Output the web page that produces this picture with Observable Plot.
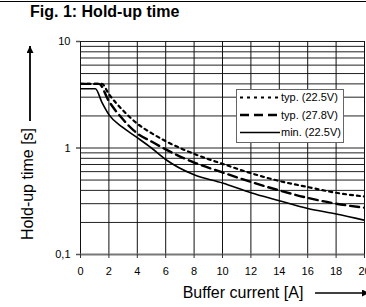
<!DOCTYPE html>
<html>
<head>
<meta charset="utf-8">
<script src="https://cdn.jsdelivr.net/npm/d3@7"></script>
<script src="https://cdn.jsdelivr.net/npm/@observablehq/plot@0.6"></script>
<style>
  html, body { margin: 0; padding: 0; background: #fff; }
  #wrap { position: relative; width: 366px; height: 307px; overflow: hidden; font-family: "Liberation Sans", Arial, Helvetica, sans-serif; }
  #title { height: 32px; box-sizing: border-box; border-top: 1.5px solid #000; margin-top: 1px; padding-left: 30px; font-weight: bold; font-size: 16px; line-height: 16px; padding-top: 2px; color: #000; white-space: nowrap; }
  svg { display: block; }
</style>
</head>
<body>
<div id="wrap">
  <div id="title">Fig. 1: Hold-up time</div>
  <div id="chart"></div>
</div>
<script>
// ---- data ----
const seriesNames = ["typ. (22.5V)", "typ. (27.8V)", "min. (22.5V)"];

const currentTyp225 = [0, 1.5, 2, 3, 4, 5, 6, 8, 10, 12, 14, 16, 18, 20];
const holdTyp225    = [4.0, 4.0, 3.2, 2.25, 1.69, 1.38, 1.16, 0.88, 0.71, 0.58, 0.49, 0.43, 0.38, 0.35];

const currentTyp278 = [0, 1.3, 2, 3, 4, 5, 6, 8, 10, 12, 14, 16, 18, 20];
const holdTyp278    = [4.0, 4.0, 2.75, 1.85, 1.37, 1.15, 0.97, 0.73, 0.59, 0.48, 0.40, 0.34, 0.30, 0.275];

const currentMin225 = [0, 1.05, 1.5, 2, 3, 4, 5, 6, 8, 10, 12, 14, 16, 18, 20];
const holdMin225    = [3.6, 3.6, 2.7, 2.06, 1.55, 1.25, 1.0, 0.78, 0.56, 0.47, 0.38, 0.32, 0.27, 0.24, 0.21];

const xTicks = [0, 2, 4, 6, 8, 10, 12, 14, 16, 18, 20];
const yTicks = [0.1, 1, 10];
const yTickLabels = ["0,1", "1", "10"];
const yGrid = [0.2, 0.3, 0.4, 0.5, 0.6, 0.7, 0.8, 0.9, 1, 2, 3, 4, 5, 6, 7, 8, 9, 10];

const xLabel = "Buffer current [A]";
const yLabel = "Hold-up time [s]";

// ---- build tables ----
const zip = (xs, ys, s) => xs.map((x, i) => ({current: x, hold: ys[i], series: s}));
const dTyp225 = zip(currentTyp225, holdTyp225, seriesNames[0]);
const dTyp278 = zip(currentTyp278, holdTyp278, seriesNames[1]);
const dMin225 = zip(currentMin225, holdMin225, seriesNames[2]);

const styles = [
  {dash: "3,4", width: 2.2},
  {dash: "9,5", width: 2.4},
  {dash: null, width: 1.6}
];

const yFmt = d => yTickLabels[yTicks.indexOf(d)];

const chart = Plot.plot({
  width: 366,
  height: 275,
  marginLeft: 80,
  marginRight: 2,
  marginTop: 8,
  marginBottom: 54,
  style: {fontFamily: "'Liberation Sans', Arial, Helvetica, sans-serif", fontSize: "11px", color: "#000", background: "#fff"},
  x: {domain: [0, 20], ticks: xTicks, label: null},
  y: {type: "log", domain: [0.1, 10], ticks: yTicks, label: null, tickFormat: yFmt},
  marks: [
    Plot.ruleY(yGrid, {stroke: "#222", strokeWidth: 1}),
    Plot.ruleX(xTicks, {stroke: "#111", strokeWidth: 1}),
    Plot.ruleY([0.1], {stroke: "#777", strokeWidth: 2}),
    Plot.axisX({ticks: xTicks, tickSize: 4, tickPadding: 9, stroke: "#333", label: null}),
    Plot.axisY({ticks: yTicks, tickSize: 4, tickPadding: 6, stroke: "#555", strokeWidth: 1.5, tickFormat: yFmt, label: null}),
    Plot.line(dTyp225, {x: "current", y: "hold", curve: "monotone-x", stroke: "#000", strokeWidth: styles[0].width, strokeDasharray: styles[0].dash, clip: true}),
    Plot.line(dTyp278, {x: "current", y: "hold", curve: "monotone-x", stroke: "#000", strokeWidth: styles[1].width, strokeDasharray: styles[1].dash, clip: true}),
    Plot.line(dMin225, {x: "current", y: "hold", curve: "monotone-x", stroke: "#000", strokeWidth: styles[2].width, clip: true})
  ]
});

document.getElementById("chart").appendChild(chart);

// ---- decorations: axis labels with arrows, legend ----
const svg = d3.select(chart);
const defs = svg.append("defs");
defs.append("marker").attr("id", "ahY").attr("viewBox", "0 0 10 10").attr("refX", 10).attr("refY", 5)
  .attr("markerWidth", 15).attr("markerHeight", 7).attr("markerUnits", "userSpaceOnUse").attr("orient", "auto")
  .append("path").attr("d", "M0,0L10,5L0,10Z").attr("fill", "#000");
defs.append("marker").attr("id", "ahX").attr("viewBox", "0 0 10 10").attr("refX", 10).attr("refY", 5)
  .attr("markerWidth", 13).attr("markerHeight", 7).attr("markerUnits", "userSpaceOnUse").attr("orient", "auto")
  .append("path").attr("d", "M0,0L10,5L0,10Z").attr("fill", "#000");

// y label
svg.append("text").attr("transform", "translate(33,151) rotate(-90)").attr("text-anchor", "middle")
  .style("font-size", "16px").attr("fill", "#000").text(yLabel);
svg.append("line").attr("x1", 30).attr("y1", 88).attr("x2", 30).attr("y2", 13)
  .attr("stroke", "#000").attr("stroke-width", 1.8).attr("marker-end", "url(#ahY)");

// x label
svg.append("text").attr("x", 243).attr("y", 265).attr("text-anchor", "middle")
  .style("font-size", "16px").attr("fill", "#000").text(xLabel);
svg.append("line").attr("x1", 315).attr("y1", 260).attr("x2", 369).attr("y2", 260)
  .attr("stroke", "#000").attr("stroke-width", 1.5).attr("marker-end", "url(#ahX)");

// legend
const lg = svg.append("g");
lg.append("rect").attr("x", 236.5).attr("y", 56.5).attr("width", 107).attr("height", 53)
  .attr("fill", "#fff").attr("stroke", "#666").attr("stroke-width", 1);
seriesNames.forEach((name, i) => {
  const y = 64.5 + i * 17.5;
  lg.append("line").attr("x1", 240).attr("x2", 280).attr("y1", y).attr("y2", y)
    .attr("stroke", "#000").attr("stroke-width", styles[i].width)
    .attr("stroke-dasharray", styles[i].dash);
  lg.append("text").attr("x", 281).attr("y", y).attr("dy", "0.35em").attr("text-anchor", "start")
    .style("font-size", "11px").attr("fill", "#000").text(name);
});
</script>
</body>
</html>
